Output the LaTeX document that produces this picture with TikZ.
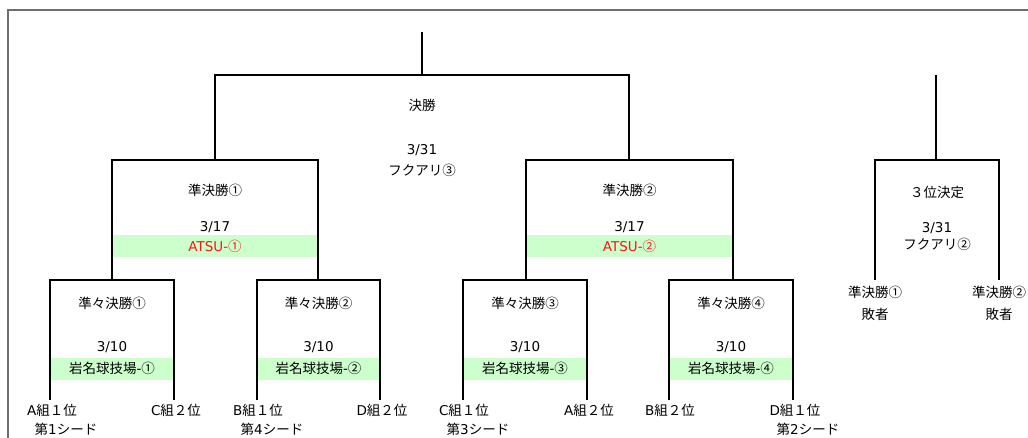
\documentclass[tikz,border=0pt]{standalone}
\usepackage{fontspec}
\newfontfamily\jp{Noto Sans CJK JP}
\newfontfamily\latfont{DejaVu Sans}
\newcommand\lat[1]{{\latfont #1}}
\definecolor{venuegreen}{RGB}{204,255,204}
\definecolor{venuered}{RGB}{255,20,20}
\definecolor{framegray}{RGB}{110,110,110}

\begin{document}
\begin{tikzpicture}
      [x=1pt,y=-1pt,every node/.style={font=\jp\fontsize{13.5}{16}\selectfont, inner sep=1pt},
       bar/.style={line width=1.6pt},
       venue/.style={fill=venuegreen, minimum height=22pt, inner sep=0pt}]
    \useasboundingbox (0,0) rectangle (1028,438);
    \draw[framegray, line width=1.2pt] (8,438) -- (8,10) -- (1028,10);

    % bracket corners
    \coordinate (ftop) at (422,32);  \coordinate (fmid) at (422,75);
    \coordinate (fl) at (215,75);    \coordinate (fr) at (629,75);
    \coordinate (s1t) at (215,160);  \coordinate (s2t) at (629,160);
    \coordinate (s1l) at (112,160);  \coordinate (s1r) at (318,160);
    \coordinate (s2l) at (526,160);  \coordinate (s2r) at (733,160);
    \coordinate (q1t) at (112,280);  \coordinate (q2t) at (318,280);
    \coordinate (q3t) at (526,280);  \coordinate (q4t) at (733,280);
    \coordinate (q1l) at (50,280);   \coordinate (q1r) at (174,280);
    \coordinate (q2l) at (257,280);  \coordinate (q2r) at (380,280);
    \coordinate (q3l) at (463,280);  \coordinate (q3r) at (587,280);
    \coordinate (q4l) at (669,280);  \coordinate (q4r) at (793,280);
    \coordinate (q1a) at (50,400);   \coordinate (q1b) at (174,400);
    \coordinate (q2a) at (257,400);  \coordinate (q2b) at (380,400);
    \coordinate (q3a) at (463,400);  \coordinate (q3b) at (587,400);
    \coordinate (q4a) at (669,400);  \coordinate (q4b) at (793,400);
    \coordinate (ttop) at (936,75);  \coordinate (tmid) at (936,160);
    \coordinate (tl) at (875,160);   \coordinate (tr) at (999,160);
    \coordinate (ta) at (875,280);   \coordinate (tb) at (999,280);

    % final
    \node (fname) at (422,105) {決勝};
    \node (fdate) at (422,150) {\lat{3/31}};
    \node (fvenue) at (422,170) {フクアリ③};

    % semi finals
    \foreach \i/\x/\n in {1/215/①, 2/629.5/②}{
      \node (s\i name) at (\x,190) {準決勝\n};
      \node (s\i date) at (\x,227) {\lat{3/17}};
      \node[venue, minimum width=206pt, text=venuered] (s\i venue) at (\x,246) {\lat{ATSU-}\n};
    }

    % quarter finals
    \foreach \i/\x/\n in {1/112/①, 2/318.5/②, 3/525/③, 4/731/④}{
      \node (q\i name) at (\x,303) {準々決勝\n};
      \node (q\i date) at (\x,347) {\lat{3/10}};
      \node[venue, minimum width=124pt] (q\i venue) at (\x,368.5) {岩名球技場\lat{-}\n};
    }

    % third place
    \node (tname) at (937,192) {３位決定};
    \node (tdate) at (937,228) {\lat{3/31}};
    \node (tvenue) at (937,244) {フクアリ②};
    \node (tla) at (875,292) {準決勝①};
    \node (tlb) at (875,314) {敗者};
    \node (tra) at (999,292) {準決勝②};
    \node (trb) at (999,314) {敗者};

    % teams and seeds
    \node (t1) at (52,410) {\lat{A}組１位};
    \node (t2) at (176,410) {\lat{C}組２位};
    \node (t3) at (258,410) {\lat{B}組１位};
    \node (t4) at (382,410) {\lat{D}組２位};
    \node (t5) at (464,410) {\lat{C}組１位};
    \node (t6) at (589,410) {\lat{A}組２位};
    \node (t7) at (670,410) {\lat{B}組２位};
    \node (t8) at (795,410) {\lat{D}組１位};
    \node (seed1) at (66,429) {第\lat{1}シード};
    \node (seed4) at (272,429) {第\lat{4}シード};
    \node (seed3) at (478,429) {第\lat{3}シード};
    \node (seed2) at (808,429) {第\lat{2}シード};

    \foreach \a/\b/\c/\d in {s1t/fl/fr/s2t, q1t/s1l/s1r/q2t, q3t/s2l/s2r/q4t,
        q1a/q1l/q1r/q1b, q2a/q2l/q2r/q2b, q3a/q3l/q3r/q3b, q4a/q4l/q4r/q4b, ta/tl/tr/tb}
      \draw[bar] (\a) -- (\b) -- (\c) -- (\d);
    \foreach \from/\to in {ftop/fmid, ttop/tmid}
      \draw[bar] (\from) -- (\to);
  \end{tikzpicture}
\end{document}
